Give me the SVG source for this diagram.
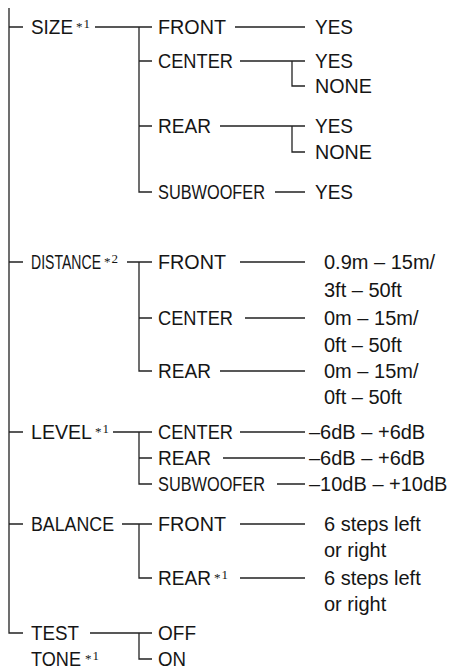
<svg xmlns="http://www.w3.org/2000/svg" width="454" height="670" viewBox="0 0 454 670">
<style>
  .t{font-family:"Liberation Sans",Arial,sans-serif;font-size:20px;fill:#151515}
  .s{font-family:"Liberation Serif","Times New Roman",serif;font-size:13px;fill:#151515}
  .c{fill:none;stroke:#222;stroke-width:1.3}
</style>
<rect width="454" height="670" fill="#fff"/>
<g id="connectors" class="c">
  <path d="M9 8V633H23"/>
  <path d="M9 27H23M9 262H23M9 432H23M9 524H23"/>
  <path d="M95 27H152M139 27V192H152M139 61H152M139 126H152"/>
  <path d="M235 27H305M240 61H305M292 61V86H305M220 126H305M292 126V152H305M275 192H305"/>
  <path d="M127 262H152M139 262V371H152M139 318H152"/>
  <path d="M240 262H305M245 318H305M220 371H305"/>
  <path d="M113 432H152M139 432V484H152M139 458H152"/>
  <path d="M240 432H305M223 458H305M277 484H305"/>
  <path d="M122 524H152M139 524V578H152"/>
  <path d="M240 524H305M240 578H305"/>
  <path d="M90 633H152M139 633V659H152"/>
</g>
<g id="size">
  <text class="t" x="31" y="34" textLength="42" lengthAdjust="spacingAndGlyphs">SIZE</text>
  <text class="s" x="76" y="31">*<tspan dx="1" dy="-3">1</tspan></text>
</g>
<g id="size-front"><text class="t" x="158" y="34" textLength="68" lengthAdjust="spacingAndGlyphs">FRONT</text><text class="t" x="315" y="34" textLength="38" lengthAdjust="spacingAndGlyphs">YES</text></g>
<g id="size-center"><text class="t" x="158" y="68" textLength="75" lengthAdjust="spacingAndGlyphs">CENTER</text><text class="t" x="315" y="68" textLength="38" lengthAdjust="spacingAndGlyphs">YES</text><text class="t" x="315" y="93" textLength="57" lengthAdjust="spacingAndGlyphs">NONE</text></g>
<g id="size-rear"><text class="t" x="158" y="133" textLength="53" lengthAdjust="spacingAndGlyphs">REAR</text><text class="t" x="315" y="133" textLength="38" lengthAdjust="spacingAndGlyphs">YES</text><text class="t" x="315" y="159" textLength="57" lengthAdjust="spacingAndGlyphs">NONE</text></g>
<g id="size-sub"><text class="t" x="158" y="199" textLength="107" lengthAdjust="spacingAndGlyphs">SUBWOOFER</text><text class="t" x="315" y="199" textLength="38" lengthAdjust="spacingAndGlyphs">YES</text></g>
<g id="distance">
  <text class="t" x="31" y="269" textLength="70" lengthAdjust="spacingAndGlyphs">DISTANCE</text>
  <text class="s" x="104" y="266">*<tspan dx="1" dy="-3">2</tspan></text>
</g>
<g id="dist-front"><text class="t" x="158" y="269" textLength="68" lengthAdjust="spacingAndGlyphs">FRONT</text><text class="t" x="324" y="269">0.9m – 15m/</text><text class="t" x="324" y="297">3ft – 50ft</text></g>
<g id="dist-center"><text class="t" x="158" y="325" textLength="75" lengthAdjust="spacingAndGlyphs">CENTER</text><text class="t" x="324" y="325">0m – 15m/</text><text class="t" x="324" y="352">0ft – 50ft</text></g>
<g id="dist-rear"><text class="t" x="158" y="378" textLength="53" lengthAdjust="spacingAndGlyphs">REAR</text><text class="t" x="324" y="378">0m – 15m/</text><text class="t" x="324" y="404">0ft – 50ft</text></g>
<g id="level">
  <text class="t" x="31" y="439" textLength="61" lengthAdjust="spacingAndGlyphs">LEVEL</text>
  <text class="s" x="95" y="436">*<tspan dx="1" dy="-3">1</tspan></text>
</g>
<g id="level-center"><text class="t" x="158" y="439" textLength="75" lengthAdjust="spacingAndGlyphs">CENTER</text><text class="t" x="309" y="439">–6dB – +6dB</text></g>
<g id="level-rear"><text class="t" x="158" y="465" textLength="53" lengthAdjust="spacingAndGlyphs">REAR</text><text class="t" x="309" y="465">–6dB – +6dB</text></g>
<g id="level-sub"><text class="t" x="158" y="491" textLength="107" lengthAdjust="spacingAndGlyphs">SUBWOOFER</text><text class="t" x="309" y="491">–10dB – +10dB</text></g>
<g id="balance"><text class="t" x="31" y="531" textLength="83" lengthAdjust="spacingAndGlyphs">BALANCE</text></g>
<g id="bal-front"><text class="t" x="158" y="531" textLength="68" lengthAdjust="spacingAndGlyphs">FRONT</text><text class="t" x="324" y="531">6 steps left</text><text class="t" x="324" y="557">or right</text></g>
<g id="bal-rear">
  <text class="t" x="158" y="585" textLength="53" lengthAdjust="spacingAndGlyphs">REAR</text>
  <text class="s" x="214" y="582">*<tspan dx="1" dy="-3">1</tspan></text>
  <text class="t" x="324" y="585">6 steps left</text><text class="t" x="324" y="611">or right</text>
</g>
<g id="test-tone">
  <text class="t" x="31" y="640" textLength="48" lengthAdjust="spacingAndGlyphs">TEST</text>
  <text class="t" x="31" y="666" textLength="50" lengthAdjust="spacingAndGlyphs">TONE</text>
  <text class="s" x="85" y="663">*<tspan dx="1" dy="-3">1</tspan></text>
</g>
<g id="tt-off"><text class="t" x="158" y="640" textLength="38" lengthAdjust="spacingAndGlyphs">OFF</text></g>
<g id="tt-on"><text class="t" x="158" y="666" textLength="28" lengthAdjust="spacingAndGlyphs">ON</text></g>
</svg>
